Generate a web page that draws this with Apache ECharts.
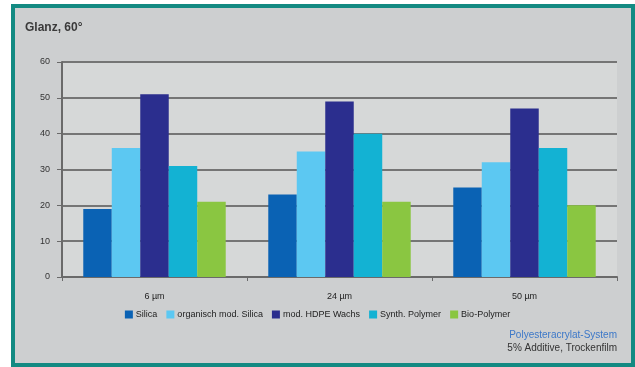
<!DOCTYPE html>
<html>
<head>
<meta charset="utf-8">
<script src="https://cdn.jsdelivr.net/npm/echarts@6/dist/echarts.min.js"></script>
<style>
  html, body { margin: 0; padding: 0; background: #ffffff; }
  #chart { width: 635px; height: 367px; }
</style>
</head>
<body>
<div id="chart"></div>
<script>
// Glossage (60°) per film thickness and additive type
const categories = ['6 µm', '24 µm', '50 µm'];
const silica = [19, 23, 25];
const orgModSilica = [36, 35, 32];
const hdpeWachs = [51, 49, 47];
const synthPolymer = [31, 40, 36];
const bioPolymer = [21, 21, 20];
const seriesNames = ['Silica', 'organisch mod. Silica', 'mod. HDPE Wachs', 'Synth. Polymer', 'Bio-Polymer'];
const yTicks = [0, 10, 20, 30, 40, 50, 60];

const colors = ['#0a62b4', '#5cc8f2', '#2b2e8e', '#13b2d3', '#8ac641'];
const seriesData = [silica, orgModSilica, hdpeWachs, synthPolymer, bioPolymer];

const chart = echarts.init(document.getElementById('chart'));
const font = 'Liberation Sans, Arial, sans-serif';

chart.setOption({
  animation: false,
  backgroundColor: '#ffffff',
  title: {
    text: 'Glanz, 60°',
    left: 20, top: 17,
    textStyle: { fontFamily: font, fontSize: 12, fontWeight: 'bold', color: '#3a3a3a' }
  },
  graphic: [
    {
      type: 'rect', z: -10, silent: true,
      shape: { x: 13, y: 6, width: 620, height: 359 },
      style: { fill: '#cdcfd0', stroke: '#138a82', lineWidth: 4 }
    },
    {
      type: 'rect', z: -9, silent: true,
      shape: { x: 62, y: 62, width: 555, height: 215 },
      style: { fill: '#d6d8d8' }
    },
    {
      type: 'text', right: 18, top: 330,
      style: { text: 'Polyesteracrylat-System', fill: '#3c78c8', font: '10px ' + font, textAlign: 'right' }
    },
    {
      type: 'text', right: 18, top: 343,
      style: { text: '5% Additive, Trockenfilm', fill: '#333', font: '10px ' + font, textAlign: 'right' }
    }
  ],
  legend: {
    bottom: 43, left: 'center',
    itemWidth: 8, itemHeight: 8, itemGap: 9,
    icon: 'rect',
    textStyle: { fontFamily: font, fontSize: 9, color: '#222', padding: [0, 0, 0, -2] },
    data: seriesNames
  },
  grid: { left: 62, right: 18, top: 62, bottom: 90 },
  xAxis: {
    type: 'category',
    data: categories,
    axisLine: { lineStyle: { color: '#6a6a6a', width: 2 } },
    axisTick: { show: true, length: 4, lineStyle: { color: '#6a6a6a' } },
    axisLabel: { fontFamily: font, fontSize: 9, color: '#222', margin: 15 }
  },
  yAxis: {
    type: 'value',
    min: 0, max: 60, interval: 10,
    axisLine: { show: true, lineStyle: { color: '#6a6a6a', width: 2 } },
    axisTick: { show: true, length: 5, lineStyle: { color: '#6a6a6a' } },
    axisLabel: {
      fontFamily: font, fontSize: 9, color: '#333', margin: 12,
      formatter: v => yTicks.includes(v) ? String(v) : ''
    },
    splitLine: { lineStyle: { color: '#757575', width: 2 } }
  },
  series: seriesNames.map((name, i) => ({
    name,
    type: 'bar',
    data: seriesData[i],
    barGap: '0%',
    barCategoryGap: '23%',
    itemStyle: { color: colors[i] }
  }))
});
</script>
</body>
</html>
